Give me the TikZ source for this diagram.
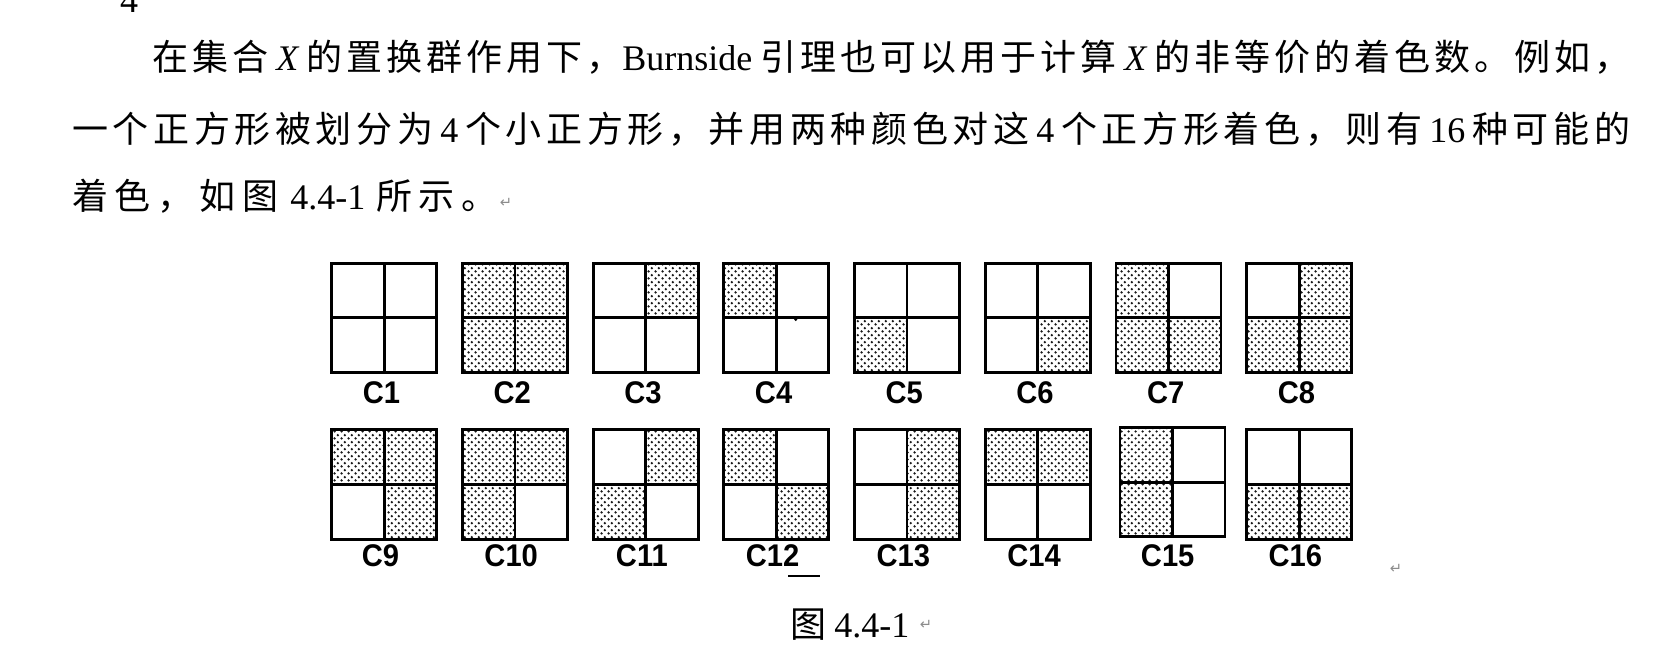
\documentclass[tikz,border=0pt]{standalone}
\usepackage{fontspec}
\usepackage{graphicx}
\setmainfont{Liberation Serif}
\newfontfamily\cjk{Noto Sans CJK SC}
\newfontfamily\lblfont{Liberation Sans}
\newfontfamily\symfont{DejaVu Sans}
\usetikzlibrary{patterns.meta}
% inter-character glue for CJK text (justification)
\XeTeXinterchartokenstate=1
\newcount\cjkcnt
\cjkcnt="4E00
\loop \XeTeXcharclass\cjkcnt=1 \advance\cjkcnt by 1 \ifnum\cjkcnt<"A000 \repeat
\XeTeXcharclass"FF0C=1
\XeTeXcharclass"3002=1
\newskip\cjkgap
\cjkgap=0pt plus 1fil
\XeTeXinterchartoks 1 1 = {\hskip\cjkgap}
\newdimen\px \px=0.75pt
\newcommand\tX{{\rmfamily\itshape X}}
\newcommand\R[1]{{\rmfamily #1}}
\newcommand\RS[1]{\hspace{7\px}{\rmfamily #1}\hspace{7\px}}
\newcommand\lab[1]{\scalebox{0.93}[1]{#1}}
\tikzdeclarepattern{
  name=stipple,
  type=uncolored,
  bounding box={(0pt,0pt) and (5pt,5pt)},
  tile size={(5pt,5pt)},
  code={
    \fill (1.25pt,1.25pt) circle (0.98pt);
    \fill (3.75pt,3.75pt) circle (0.98pt);
  }
}
\tikzset{
  stip/.style={pattern=stipple, pattern color=black!90},
  grid/.style={draw=black, line width=2.1pt, line cap=rect},
  body/.style={anchor=base west, inner sep=0pt, font=\fontsize{27}{27}\selectfont\cjk},
  lbl/.style={inner sep=0pt, font=\lblfont\bfseries\fontsize{23.5}{23.5}\selectfont},
  ret/.style={inner sep=0pt, text=black!45, font=\symfont\fontsize{11}{11}\selectfont},
}
% square: x, ytop, ybot, ymid, TL, TR, BL, BR
\newcommand\sq[8]{%
  \ifnum#5=1 \fill[stip] (#1,#2) rectangle ({#1+52.5},#4);\fi
  \ifnum#6=1 \fill[stip] ({#1+52.5},#2) rectangle ({#1+105},#4);\fi
  \ifnum#7=1 \fill[stip] (#1,#4) rectangle ({#1+52.5},#3);\fi
  \ifnum#8=1 \fill[stip] ({#1+52.5},#4) rectangle ({#1+105},#3);\fi
  \draw[grid] ({#1+52.5},#2) -- ({#1+52.5},#3);
  \draw[grid] (#1,#4) -- ({#1+105},#4);
  \draw[grid] (#1,#2) rectangle ({#1+105},#3);
}
\begin{document}
\begin{tikzpicture}[x=0.75pt,y=-0.75pt]
\fill[white] (0,0) rectangle (1653,655);
\useasboundingbox (0,0) rectangle (1653,655);

% cut-off page number at top
\node[anchor=base, inner sep=0pt, font=\fontsize{27}{27}\selectfont] (pg) at (129,13) {4};

% paragraph
\node[body] (l1) at (152,71) {\hbox to 1478\px{在集合 \tX{} 的置换群作用下，\R{Burnside} 引理也可以用于计算 \tX{} 的非等价的着色数。例如，}};
\node[body] (l2) at (72,143) {\hbox to 1558\px{一个正方形被划分为\RS{4}个小正方形，并用两种颜色对这\RS{4}个正方形着色，则有\RS{16}种可能的}};
\node[body] (l3) at (72,210) {\cjkgap=6.5\px 着色，如图\hspace{4\px} \R{4.4-1}\hspace{3\px} 所示。};
\node[ret] (r1) at (506,203) {↵};

% row 1
\sq{331.7}{263.3}{372.3}{317.8}{0}{0}{0}{0}
\sq{462.4}{263.3}{372.3}{317.8}{1}{1}{1}{1}
\sq{593.1}{263.3}{372.3}{317.8}{0}{1}{0}{0}
\sq{723.8}{263.3}{372.3}{317.8}{1}{0}{0}{0}
\sq{854.5}{263.3}{372.3}{317.8}{0}{0}{1}{0}
\sq{985.2}{263.3}{372.3}{317.8}{0}{0}{0}{1}
\sq{1115.9}{263.3}{372.3}{317.8}{1}{0}{1}{1}
\sq{1246.6}{263.3}{372.3}{317.8}{0}{1}{1}{1}
\fill (795.7,319.5) circle (1.6);

% row 2
\sq{331.7}{429.3}{539.3}{484.3}{1}{1}{0}{1}
\sq{462.4}{429.3}{539.3}{484.3}{1}{1}{1}{0}
\sq{593.1}{429.3}{539.3}{484.3}{0}{1}{1}{0}
\sq{723.8}{429.3}{539.3}{484.3}{1}{0}{0}{1}
\sq{854.5}{429.3}{539.3}{484.3}{0}{1}{0}{1}
\sq{985.2}{429.3}{539.3}{484.3}{1}{1}{0}{0}
\sq{1119.9}{427.3}{536.7}{482.3}{1}{0}{1}{0}
\sq{1246.6}{429.3}{539.3}{484.3}{0}{0}{1}{1}

% labels
\node[lbl] (c1) at (381.5,392.5) {\lab{C1}};
\node[lbl] (c2) at (512.2,392.5) {\lab{C2}};
\node[lbl] (c3) at (642.9,392.5) {\lab{C3}};
\node[lbl] (c4) at (773.6,392.5) {\lab{C4}};
\node[lbl] (c5) at (904.3,392.5) {\lab{C5}};
\node[lbl] (c6) at (1035.0,392.5) {\lab{C6}};
\node[lbl] (c7) at (1165.7,392.5) {\lab{C7}};
\node[lbl] (c8) at (1296.4,392.5) {\lab{C8}};
\node[lbl] (c9) at (380.5,556) {\lab{C9}};
\node[lbl] (c10) at (511.2,556) {\lab{C10}};
\node[lbl] (c11) at (641.9,556) {\lab{C11}};
\node[lbl] (c12) at (772.6,556) {\lab{C12}};
\node[lbl] (c13) at (903.3,556) {\lab{C13}};
\node[lbl] (c14) at (1034.0,556) {\lab{C14}};
\node[lbl] (c15) at (1167.7,556) {\lab{C15}};
\node[lbl] (c16) at (1295.4,556) {\lab{C16}};

% stray mark under C12
\coordinate (m1) at (788,576);
\coordinate (m2) at (820,576);
\draw[line width=2pt] (m1) -- (m2);
\node[ret] (r2) at (1396,569) {↵};

% caption
\node[body] (cap) at (790,637) {图 \R{4.4-1}};
\node[ret] (r3) at (926,625) {↵};
\end{tikzpicture}
\end{document}
